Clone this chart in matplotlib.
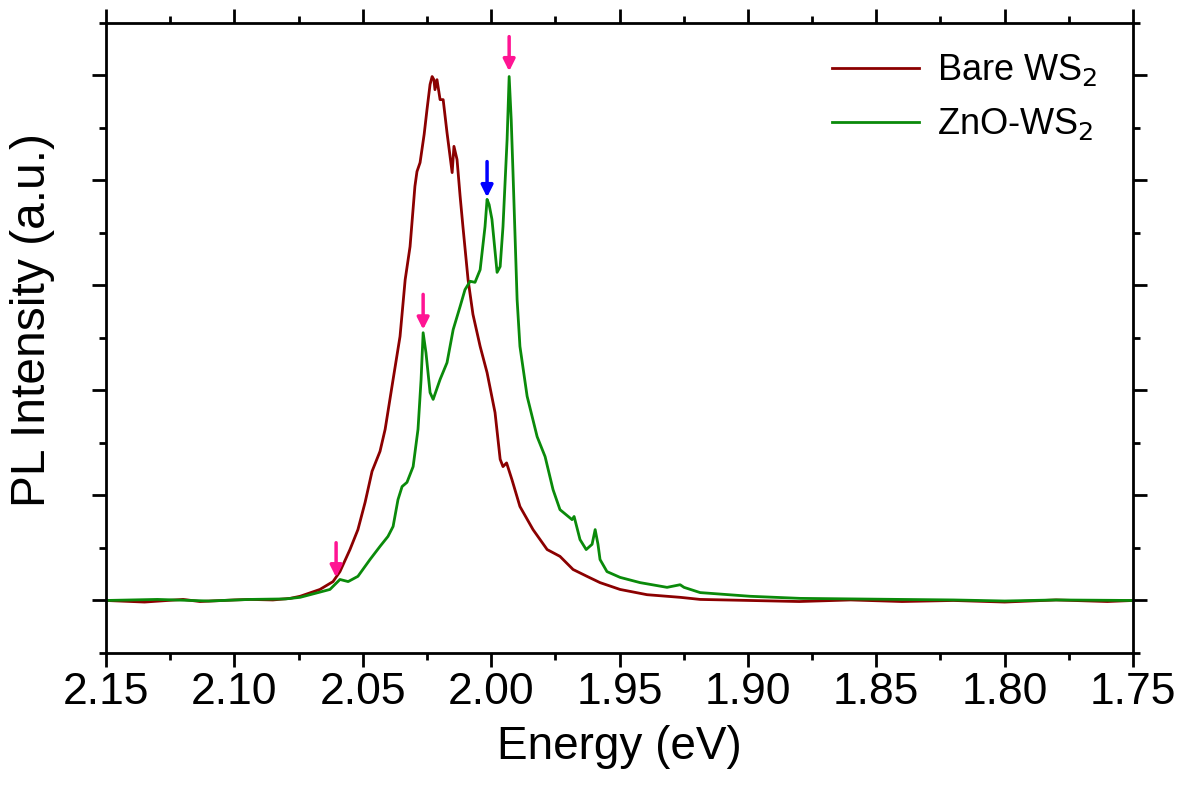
import matplotlib.pyplot as plt
from matplotlib.ticker import MultipleLocator

plt.rcParams['font.family'] = ['Liberation Sans', 'DejaVu Sans']

# Bare WS2 spectrum (energy in eV, normalised PL intensity)
bare_e = [2.150, 2.135, 2.120, 2.1134, 2.100, 2.0939, 2.085, 2.0783, 2.0744, 2.0667, 2.0616,
          2.0589, 2.0550, 2.0519, 2.0491, 2.0464, 2.0433, 2.0413, 2.0382, 2.0355, 2.0335,
          2.0316, 2.0297, 2.0289, 2.0277, 2.0261, 2.0250, 2.0238, 2.0230, 2.0223, 2.0219,
          2.0211, 2.0199, 2.0187, 2.0172, 2.0152, 2.0145, 2.0133, 2.0121, 2.0110, 2.0090,
          2.0071, 2.0043, 2.0016, 1.9985, 1.9965, 1.9954, 1.9940, 1.9919, 1.9888, 1.9837,
          1.9782, 1.9732, 1.9681, 1.9627, 1.9576, 1.9498, 1.9393, 1.9264, 1.9186, 1.8992,
          1.880, 1.860, 1.840, 1.820, 1.800, 1.780, 1.760, 1.750]
bare_i = [0.000, -0.003, 0.002, -0.002, 0.001, 0.002, 0.001, 0.004, 0.008, 0.021, 0.036,
          0.055, 0.097, 0.135, 0.187, 0.246, 0.284, 0.326, 0.421, 0.503, 0.611,
          0.674, 0.789, 0.817, 0.834, 0.888, 0.935, 0.983, 0.998, 0.992, 0.973,
          0.992, 0.954, 0.954, 0.891, 0.815, 0.865, 0.840, 0.770, 0.712, 0.611,
          0.545, 0.484, 0.434, 0.358, 0.269, 0.255, 0.262, 0.230, 0.179, 0.135,
          0.097, 0.084, 0.059, 0.046, 0.034, 0.021, 0.011, 0.006, 0.002, 0.000,
          -0.002, 0.001, -0.002, 0.000, -0.003, 0.001, -0.002, 0.000]

# ZnO-WS2 spectrum
zno_e = [2.150, 2.130, 2.110, 2.0939, 2.080, 2.0744, 2.0628, 2.0589, 2.0557, 2.0519, 2.0472,
         2.0433, 2.0402, 2.0382, 2.0363, 2.0347, 2.0328, 2.0304, 2.0285, 2.0273, 2.0265,
         2.0254, 2.0238, 2.0226, 2.0199, 2.0172, 2.0148, 2.0121, 2.0102, 2.0082, 2.0063,
         2.0043, 2.0024, 2.0016, 2.0008, 1.9997, 1.9977, 1.9965, 1.9954, 1.9938, 1.9930,
         1.9922, 1.9915, 1.9899, 1.9888, 1.9860, 1.9821, 1.9790, 1.9759, 1.9732, 1.9685,
         1.9677, 1.9654, 1.9630, 1.9607, 1.9595, 1.9584, 1.9576, 1.9549, 1.9498, 1.9420,
         1.9315, 1.9264, 1.9249, 1.9186, 1.8992, 1.8797, 1.8408, 1.820, 1.800, 1.780, 1.750]
zno_i = [0.000, 0.002, -0.001, 0.002, 0.003, 0.006, 0.021, 0.040, 0.036, 0.046, 0.078,
         0.103, 0.122, 0.141, 0.192, 0.217, 0.225, 0.255, 0.326, 0.421, 0.510,
         0.472, 0.396, 0.383, 0.421, 0.453, 0.516, 0.560, 0.592, 0.608, 0.606,
         0.630, 0.712, 0.764, 0.754, 0.726, 0.625, 0.636, 0.712, 0.878, 0.998,
         0.916, 0.815, 0.573, 0.484, 0.389, 0.312, 0.274, 0.211, 0.173, 0.154,
         0.160, 0.116, 0.097, 0.107, 0.135, 0.107, 0.078, 0.055, 0.044, 0.034,
         0.025, 0.030, 0.025, 0.015, 0.008, 0.004, 0.002, 0.001, -0.001, 0.001, 0.000]

# arrow markers: (energy, tip intensity, tail intensity, colour)
arrows = [(2.0604, 0.044, 0.110, '#FF1493'),
          (2.0265, 0.516, 0.583, '#FF1493'),
          (1.9930, 1.008, 1.074, '#FF1493'),
          (2.0016, 0.768, 0.836, '#0000FF')]

fig = plt.figure(figsize=(11.81, 7.87), dpi=100)
ax = fig.add_axes([0.0898, 0.1703, 0.8696, 0.8005])

ax.plot(bare_e, bare_i, color='#8B0000', lw=2.0, label='Bare WS$_2$')
ax.plot(zno_e, zno_i, color='#0A8A0A', lw=2.0, label='ZnO-WS$_2$')

for e, tip, tail, c in arrows:
    ax.annotate('', xy=(e, tip), xytext=(e, tail),
                arrowprops=dict(arrowstyle='-|>,head_width=0.35,head_length=0.7',
                                color=c, lw=2.5, shrinkA=0, shrinkB=0))

ax.set_xlim(2.15, 1.75)
ax.set_ylim(-0.1, 1.1)
ax.xaxis.set_major_locator(MultipleLocator(0.05))
ax.xaxis.set_minor_locator(MultipleLocator(0.025))
ax.yaxis.set_major_locator(MultipleLocator(0.2))
ax.yaxis.set_minor_locator(MultipleLocator(0.1))
ax.xaxis.set_major_formatter(plt.FuncFormatter(lambda v, p: f'{v:.2f}'))
ax.set_yticklabels([])

ax.tick_params(which='both', direction='out', top=True, right=True, width=2)
ax.tick_params(which='major', length=10, labelsize=32, pad=4)
ax.tick_params(which='minor', length=5)
for s in ax.spines.values():
    s.set_linewidth(2)

ax.set_xlabel('Energy (eV)', fontsize=33, labelpad=8)
ax.set_ylabel('PL Intensity (a.u.)', fontsize=34.5)
ax.yaxis.set_label_coords(-0.050, 0.528)

ax.legend(loc='upper right', bbox_to_anchor=(0.997, 1.005), frameon=False,
          fontsize=26, handlelength=2.4, handletextpad=0.5, labelspacing=0.5)

fig.savefig('out.png', dpi=100)
